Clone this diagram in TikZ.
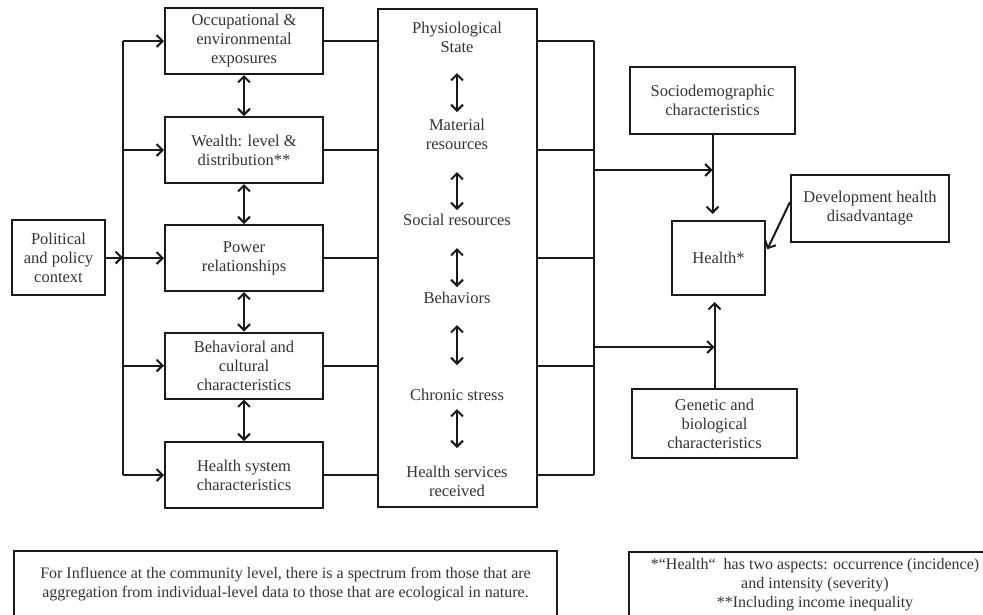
\documentclass[tikz,border=0pt]{standalone}
\usepackage{fontspec}
\setmainfont{Liberation Serif}
\usetikzlibrary{arrows.meta}
\begin{document}
\begin{tikzpicture}[x=1pt,y=-1pt,
  every node/.style={font=\fontsize{16.5}{19}\selectfont, text=black!80, align=center},
  note/.style={font=\fontsize{16}{19}\selectfont},
  box/.style={draw=black!90, line width=2pt, inner sep=0pt},
  wire/.style={draw=black!90, line width=2pt},
  arr/.style={wire, -{Straight Barb[length=6pt,width=12pt,line width=2pt]}},
  dbl/.style={wire, {Straight Barb[length=6pt,width=12pt,line width=2pt]}-{Straight Barb[length=6pt,width=12pt,line width=2pt]}},
  lbox/.style={box, minimum width=158pt, minimum height=66pt}
]
\useasboundingbox (0,0) rectangle (983,614);
\clip (0,0) rectangle (983,614);

% context box and the distribution bus
\node[box, minimum width=93pt, minimum height=75pt] (pol) at (58.5,257.5) {Political\\and policy\\context};
\coordinate (bus) at (123,257.5);

% structural determinants
\node[lbox] (occ)   at (244,41)    {Occupational \&\\environmental\\exposures};
\node[lbox] (wlth)  at (244,150)   {Wealth: level \&\\distribution**};
\node[lbox] (pow)   at (244,258)   {Power\\relationships};
\node[lbox] (beh)   at (244,365.5) {Behavioral and\\cultural\\characteristics};
\node[lbox] (hsys)  at (244,475)   {Health system\\characteristics};

% intermediate pathways
\node[box, minimum width=159pt, minimum height=498pt] (mid) at (457.5,258) {};
\node (m1) at (457,37)    {Physiological\\State};
\node (m2) at (457,134.5) {Material\\resources};
\node (m3) at (457,220)   {Social resources};
\node (m4) at (457,298)   {Behaviors};
\node (m5) at (457,395)   {Chronic stress};
\node (m6) at (457,481.5) {Health services\\received};
\coordinate (rbus) at (594,258);

% outcome side
\node[box, minimum width=165pt, minimum height=67pt] (socio) at (712.5,100.5) {Sociodemographic\\characteristics};
\node[box, minimum width=93pt, minimum height=74pt] (health) at (718.5,258) {Health*};
\node[box, minimum width=158pt, minimum height=67pt] (dev) at (870,208.5) {Development health\\disadvantage};
\node[box, minimum width=165pt, minimum height=69pt] (gen) at (714.5,423.5) {Genetic and\\biological\\characteristics};
\coordinate (j1) at (594,170);
\coordinate (j2) at (594,347);

% footnotes
\node[box, note, minimum width=543pt, minimum height=66pt, anchor=north west] (noteL) at (13,550)
  {For Influence at the community level, there is a spectrum from those that are\\
   aggregation from individual-level data to those that are ecological in nature.};
\node[box, note, minimum width=372pt, minimum height=66pt, anchor=north west] (noteR) at (628,551)
  {*“Health“\ \ has two aspects: occurrence (incidence)\\and intensity (severity)\\**Including income inequality};

% political context feeds every determinant
\draw[arr] (pol.east) -- (bus);
\draw[wire] (bus |- occ.west) -- (bus |- hsys.west);
\foreach \b in {occ,wlth,pow,beh,hsys}
  \draw[arr] (bus |- \b.west) -- (\b.west);

% links among the determinants
\draw[dbl] (occ.south)  -- (wlth.north);
\draw[dbl] (wlth.south) -- (pow.north);
\draw[dbl] (pow.south)  -- (beh.north);
\draw[dbl] (beh.south)  -- (hsys.north);

% determinants into the pathway block
\foreach \b in {occ,wlth,pow,beh,hsys}
  \draw[wire] (\b.east) -- (\b.east -| mid.west);

% links among the pathways
\draw[dbl] (457,73)  -- (457,112);
\draw[dbl] (457,172) -- (457,210);
\draw[dbl] (457,248) -- (457,287);
\draw[dbl] (457,325) -- (457,365);
\draw[dbl] (457,409) -- (457,448);

% pathway block to the collecting bus
\foreach \b in {occ,wlth,pow,beh,hsys}
  \draw[wire] (mid.east |- \b.east) -- (rbus |- \b.east);
\draw[wire] (rbus |- occ.east) -- (rbus |- hsys.east);

% into health
\draw[arr] (j1) -- (j1 -| socio.south);
\draw[arr] (j2) -- (j2 -| gen.north);
\draw[arr, shorten >=6pt] (socio.south) -- (socio.south |- health.north);
\draw[arr, shorten >=6pt] (gen.north) -- (gen.north |- health.south);
\draw[arr, shorten >=3pt] ([yshift=6.5pt]dev.west) -- ([yshift=6pt]health.east);
\end{tikzpicture}
\end{document}
